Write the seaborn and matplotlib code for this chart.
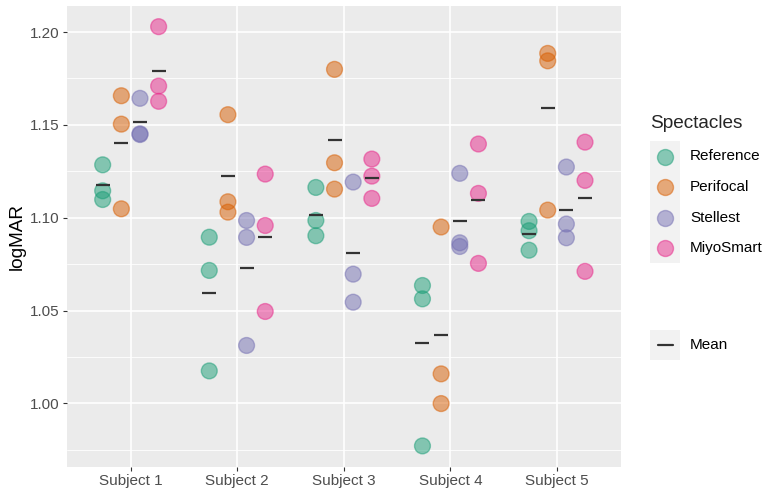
import numpy as np
import pandas as pd
import seaborn as sns
import matplotlib.pyplot as plt
from matplotlib.lines import Line2D
from matplotlib.patches import Rectangle
from matplotlib.ticker import MultipleLocator

# data: three readings per subject for each lens
subjects = ['Subject 1', 'Subject 2', 'Subject 3', 'Subject 4', 'Subject 5']
spectacles = ['Reference', 'Perifocal', 'Stellest', 'MiyoSmart']
reference = [[1.1285, 1.1145, 1.1098], [1.0895, 1.0716, 1.0175], [1.1163, 1.0985, 1.0903],
             [1.0635, 1.0563, 0.9771], [1.0980, 1.0930, 1.0825]]
perifocal = [[1.1657, 1.1504, 1.1048], [1.1555, 1.1086, 1.1030], [1.1799, 1.1296, 1.1154],
             [1.0950, 1.0159, 0.9999], [1.1885, 1.1845, 1.1041]]
stellest = [[1.1643, 1.1452, 1.1448], [1.0985, 1.0894, 1.0312], [1.1192, 1.0696, 1.0545],
            [1.1239, 1.0865, 1.0845], [1.1273, 1.0966, 1.0892]]
miyosmart = [[1.2029, 1.1709, 1.1627], [1.1235, 1.0958, 1.0495], [1.1316, 1.1224, 1.1104],
             [1.1397, 1.1131, 1.0754], [1.1407, 1.1201, 1.0711]]
palette = ['#1B9E77', '#D95F02', '#7570B3', '#E7298A']

# long table
rows = []
for lens, vals in zip(spectacles, [reference, perifocal, stellest, miyosmart]):
    for subj, reads in zip(subjects, vals):
        for v in reads:
            rows.append((subj, lens, v))
df = pd.DataFrame(rows, columns=['Subject', 'Spectacles', 'logMAR'])

# dodge like ggplot position_dodge(0.7)
dodge_w = 0.7
step = dodge_w / len(spectacles)
offs = {s: (i - (len(spectacles) - 1) / 2) * step for i, s in enumerate(spectacles)}
df['xpos'] = df['Subject'].map({s: i for i, s in enumerate(subjects)}) + df['Spectacles'].map(offs)

sns.set_theme(style='darkgrid', rc={
    'axes.facecolor': '#EBEBEB',
    'grid.color': 'white',
    'axes.edgecolor': 'none',
})
plt.rcParams['font.family'] = ['Liberation Sans', 'DejaVu Sans']

W, H = 769, 496
fig = plt.figure(figsize=(W / 100, H / 100), dpi=100)
ax = fig.add_axes([66.7 / W, 1 - 466.7 / H, (621 - 66.7) / W, (466.7 - 5.5) / H])

# means (dark dashes)
sns.pointplot(data=df, x='Subject', y='logMAR', hue='Spectacles', order=subjects,
              hue_order=spectacles, palette=['#333333'] * 4, dodge=dodge_w - step,
              markers='_', linestyles='none', errorbar=None, markersize=10.5,
              markeredgewidth=1.6, legend=False, ax=ax, zorder=5)

# individual points
sns.scatterplot(data=df, x='xpos', y='logMAR', hue='Spectacles', hue_order=spectacles,
                palette=palette, s=130, alpha=0.5, edgecolor='face', linewidth=1,
                legend=False, ax=ax, zorder=3)

ax.set_xlim(-0.6, 4.6)
ax.set_ylim(0.9659, 1.2143)
ax.set_xticks(range(len(subjects)))
ax.set_xticklabels(subjects)
ax.set_yticks([1.00, 1.05, 1.10, 1.15, 1.20])
ax.set_yticklabels(['1.00', '1.05', '1.10', '1.15', '1.20'])
ax.yaxis.set_minor_locator(MultipleLocator(0.025))
ax.grid(True, which='major', color='white', linewidth=1.2)
ax.grid(True, which='minor', axis='y', color='white', linewidth=0.6)
ax.grid(False, which='major', axis='x')
ax.xaxis.grid(True, which='major', color='white', linewidth=1.2)
ax.set_axisbelow(True)
ax.tick_params(axis='both', which='major', length=3, width=0.8, color='#333333',
               labelsize=11, labelcolor='#4D4D4D', pad=2, bottom=True, left=True)
ax.tick_params(axis='y', which='minor', length=0)
ax.set_xlabel('')
ax.set_ylabel('logMAR', fontsize=13.7, color='black', labelpad=3)
for sp in ax.spines.values():
    sp.set_visible(False)


# legend built by hand so the grey key boxes match
def fx(px):
    return px / W


def fy(py):
    return 1 - py / H


fig.text(fx(650), fy(123), 'Spectacles', fontsize=13.7, va='center', ha='left')
key_y = [156.5, 187, 217.5, 248]
for lab, col, yy in zip(spectacles, palette, key_y):
    fig.add_artist(Rectangle((fx(650), fy(yy + 15)), 30 / W, 30 / H,
                             transform=fig.transFigure, facecolor='#F2F2F2', edgecolor='none'))
    fig.add_artist(Line2D([fx(665)], [fy(yy)], marker='o', markersize=11.5, color=col,
                          markeredgecolor=col, markeredgewidth=1, alpha=0.5,
                          transform=fig.transFigure))
    fig.text(fx(690), fy(yy), lab, fontsize=11, va='center', ha='left', color='black')

fig.add_artist(Rectangle((fx(650), fy(360)), 30 / W, 30 / H,
                         transform=fig.transFigure, facecolor='#F2F2F2', edgecolor='none'))
fig.add_artist(Line2D([fx(657.5), fx(672.5)], [fy(345), fy(345)], color='#333333',
                      linewidth=1.6, transform=fig.transFigure))
fig.text(fx(690), fy(345), 'Mean', fontsize=11, va='center', ha='left', color='black')

fig.savefig('out.png', dpi=100)
